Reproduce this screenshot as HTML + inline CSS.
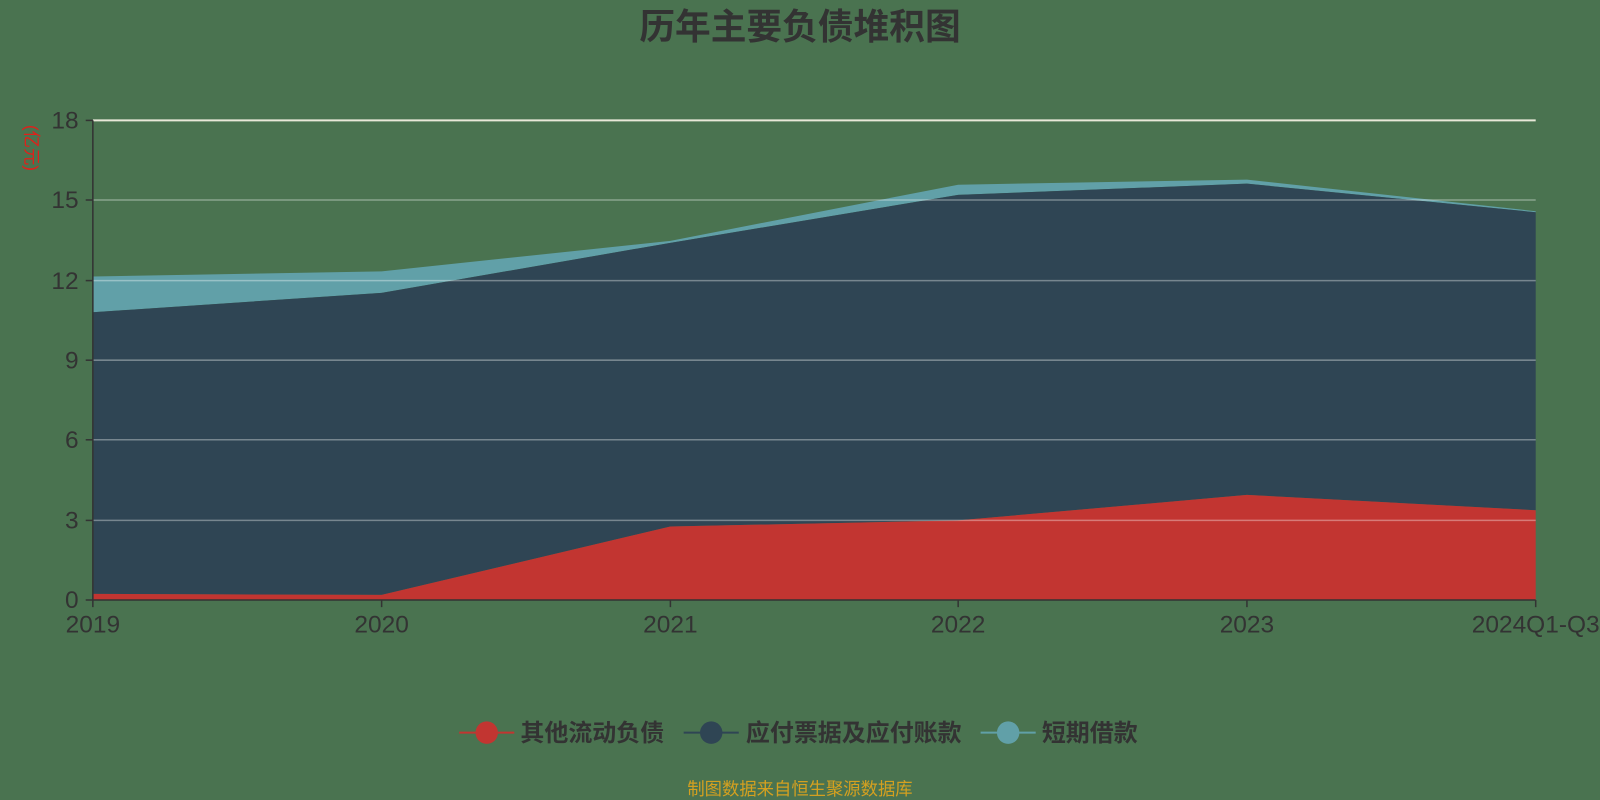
<!DOCTYPE html>
<html><head><meta charset="utf-8"><style>
html,body{margin:0;padding:0;background:#4a7350;}
svg{display:block;font-family:"Liberation Sans","Noto Sans CJK SC",sans-serif;}
</style></head><body>
<svg width="1600" height="800" viewBox="0 0 1600 800">
<rect width="1600" height="800" fill="#4a7350"/>
<g transform="scale(1.0204)">
<text x="784" y="38" text-anchor="middle" font-size="35" font-weight="bold" fill="#333">历年主要负债堆积图</text>
<text transform="translate(25,145) rotate(90)" text-anchor="middle" font-size="17" fill="#e0201a">(亿元)</text>
<polygon fill="#61a0a8" points="91,271 374,266 657,236 939,181 1222,176 1505,207 1505,208 1222,180 939,191 657,238 374,287 91,306"/>
<polygon fill="#2f4554" points="91,306 374,287 657,238 939,191 1222,180 1505,208 1505,500 1222,485 939,510 657,516 374,583 91,582"/>
<polygon fill="#c23531" points="91,582 374,583 657,516 939,510 1222,485 1505,500 1505,588 91,588"/>
<g stroke="#ffffff" stroke-opacity="0.35" stroke-width="1.5">
<line x1="91" y1="196" x2="1505" y2="196"/>
<line x1="91" y1="275" x2="1505" y2="275"/>
<line x1="91" y1="353" x2="1505" y2="353"/>
<line x1="91" y1="431" x2="1505" y2="431"/>
<line x1="91" y1="510" x2="1505" y2="510"/>
</g>
<line x1="91" y1="118" x2="1505" y2="118" stroke="#e8e8d8" stroke-width="2"/>
<g stroke="#333" stroke-width="1.5">
<line x1="91" y1="118" x2="91" y2="588"/>
<line x1="91" y1="588" x2="1505" y2="588"/>
<line x1="84" y1="118" x2="91" y2="118"/><line x1="84" y1="196" x2="91" y2="196"/>
<line x1="84" y1="275" x2="91" y2="275"/><line x1="84" y1="353" x2="91" y2="353"/>
<line x1="84" y1="431" x2="91" y2="431"/><line x1="84" y1="510" x2="91" y2="510"/>
<line x1="84" y1="588" x2="91" y2="588"/>
<line x1="91" y1="588" x2="91" y2="595"/><line x1="374" y1="588" x2="374" y2="595"/>
<line x1="657" y1="588" x2="657" y2="595"/><line x1="939" y1="588" x2="939" y2="595"/>
<line x1="1222" y1="588" x2="1222" y2="595"/><line x1="1505" y1="588" x2="1505" y2="595"/>
</g>
<g font-size="24" fill="#333" text-anchor="end">
<text x="77" y="126">18</text><text x="77" y="204">15</text><text x="77" y="283">12</text>
<text x="77" y="361">9</text><text x="77" y="439">6</text><text x="77" y="518">3</text><text x="77" y="596">0</text>
</g>
<g font-size="24" fill="#333" text-anchor="middle">
<text x="91" y="620">2019</text><text x="374" y="620">2020</text><text x="657" y="620">2021</text>
<text x="939" y="620">2022</text><text x="1222" y="620">2023</text><text x="1505" y="620">2024Q1-Q3</text>
</g>
<g font-size="23.5" fill="#333" font-weight="bold">
<line x1="450" y1="718" x2="504" y2="718" stroke="#c23531" stroke-width="2"/>
<circle cx="477" cy="718" r="11" fill="#c23531"/>
<text x="510" y="726">其他流动负债</text>
<line x1="670" y1="718" x2="724" y2="718" stroke="#2f4554" stroke-width="2"/>
<circle cx="697" cy="718" r="11" fill="#2f4554"/>
<text x="731" y="726">应付票据及应付账款</text>
<line x1="961" y1="718" x2="1015" y2="718" stroke="#61a0a8" stroke-width="2"/>
<circle cx="988" cy="718" r="11" fill="#61a0a8"/>
<text x="1021" y="726">短期借款</text>
</g>
<text x="784" y="779" text-anchor="middle" font-size="17" fill="#d4a020">制图数据来自恒生聚源数据库</text>
</g>
</svg>
</body></html>
